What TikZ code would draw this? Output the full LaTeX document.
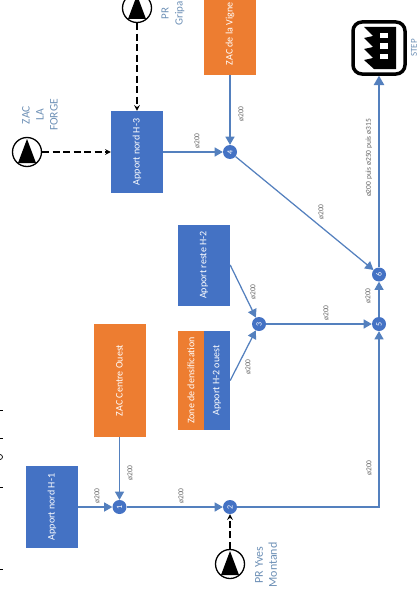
\documentclass[tikz,border=0pt]{standalone}
\usepackage{fontspec}
\setmainfont{Carlito}
\usetikzlibrary{arrows,shapes,backgrounds,calc}

\definecolor{bleu}{HTML}{4472C4}
\definecolor{orange}{HTML}{ED7D31}
\definecolor{trait}{HTML}{5480BE}
\definecolor{legende}{HTML}{6C8FB5}
\newcommand{\rot}[1]{\rotatebox{90}{#1}}

\tikzset{
  zone/.style={fill=#1,text=white,inner sep=0pt,font=\fontsize{10}{12}\selectfont},
  noeud/.style={circle,fill=bleu,text=white,minimum size=14,inner sep=0pt,font=\fontsize{8}{9}\selectfont},
  pompe/.style={circle,draw=black,fill=white,line width=1.3,minimum size=29,inner sep=0pt},
  diam/.style={rotate=90,inner sep=0pt,text=black!60,font=\fontsize{7.5}{9}\selectfont},
  nom/.style={rotate=90,align=center,inner sep=0pt,text=legende,font=\fontsize{#1}{14}\selectfont},
  conduite/.style={draw=trait,line width=1.25,-triangle 60},
  refoulement/.style={draw=black,line width=1.5,dash pattern=on 7 off 3.5,-stealth}
}

\begin{document}
\begin{tikzpicture}[x=1pt,y=-1pt]
    \useasboundingbox (0,0) rectangle (419,610);
    \clip (0,0) rectangle (419,610);
    \def\boites{
      \node [zone=bleu,minimum width=52,minimum height=82] (h3) at (137,152) {\rot{Apport nord H-3}};
      \node [zone=orange,minimum width=52,minimum height=82] (vigne) at (230,34) {\rot{ZAC de la Vigne}};
      \node [zone=bleu,minimum width=52,minimum height=81] (reste) at (204,265) {\rot{Apport reste H-2}};
      \node [zone=orange,minimum width=26,minimum height=99] (densif) at (191,380.5) {\rot{Zone de densification}};
      \node [zone=bleu,minimum width=26,minimum height=99] (ouest) at (217,380.5) {\rot{Apport H-2 ouest}};
      \node [zone=orange,minimum width=52,minimum height=113] (centre) at (119.5,380.5) {\rot{ZAC Centre Ouest}};
      \node [zone=bleu,minimum width=52,minimum height=82] (h1) at (52,507) {\rot{Apport nord H-1}};
    }
    \def\noeuds{
      \node [noeud] (n1) at (119.5,507) {\rot{1}};
      \node [noeud] (n2) at (230,507) {\rot{2}};
      \node [noeud] (n3) at (259,324) {\rot{3}};
      \node [noeud] (n4) at (230,152) {\rot{4}};
      \node [noeud] (n5) at (379,324) {\rot{5}};
      \node [noeud] (n6) at (379,274.5) {\rot{6}};
    }
    \def\pompes{
      \node [pompe] (forge) at (27,152) {};
      \node [pompe] (gripa) at (137,8) {};
      \node [pompe] (yves) at (230,564) {};
      % triangle inside each pump
      \foreach \p in {forge,gripa,yves} {
        \fill [black] ($ (\p)+(0,-13) $) -- ($ (\p)+(9,11) $) -- ($ (\p)+(-9,11) $) -- cycle;
      }
    }
    \def\station{
      \node [draw=black,line width=3.5,rounded corners=9,minimum size=52,inner sep=0pt] (step) at (379,48) {};
      \fill [black] (396,27) -- (364,27) -- (373,36) -- (364,38) -- (373,47) -- (364,49) -- (373,58) -- (364,60) -- (374,69) -- (396,69) -- cycle;
      \fill [white] (380,33) rectangle (388,38);
      \fill [white] (380,43) rectangle (388,49);
      \fill [white] (380,54) rectangle (388,59);
    }
    \boites
    \noeuds
    \pompes
    \station
    % Draw pipes
    \draw [conduite] (h3) -- (n4);
    \draw [conduite] (vigne) -- (n4);
    \draw [conduite] (n4) -- (n6);
    \draw [conduite,line width=1.6] (n6) -- (step);
    \draw [conduite] (n5) -- (n6);
    \draw [conduite] (n3) -- (n5);
    \draw [conduite] (reste.east) -- (n3);
    \draw [conduite] (ouest.east) -- (n3);
    \draw [conduite] (h1) -- (n1);
    \draw [conduite] (centre) -- (n1);
    \draw [conduite] (n1) -- (n2);
    \draw [conduite] (n2) -| (n5);
    % Draw pump lines
    \draw [refoulement] (forge) -- (h3);
    \draw [refoulement] (gripa) -- (h3);
    \draw [refoulement] (yves) -- (n2);
    % Pipe diameters
    \foreach \x/\y [count=\i] in {197/141,241/114,321/212,368/296,326/313,253/292,248/367,369/468,130/473,97/496,181/496} {
      \node [diam] (d\i) at (\x,\y) {ø200};
    }
    \node [diam] (dstep) at (369,158) {ø200 puis ø250 puis ø315};
    % Names
    \node [nom=11.5] (lforge) at (40,115) {ZAC\\LA\\FORGE};
    \node [nom=11] (lgripa) at (173,13.5) {PR\\Gripa};
    \node [nom=12] (lyves) at (266,565) {PR Yves\\Montand};
    \node [nom=9] (lstep) at (414,48) {STEP};
    % what is left of the cut title
    \foreach \y in {410,438,487,569} {
      \draw [black,line width=1] (0,\y) -- (3,\y);
    }
    \draw [black,line width=.7] (0,457) circle (2.5);
\end{tikzpicture}
\end{document}
